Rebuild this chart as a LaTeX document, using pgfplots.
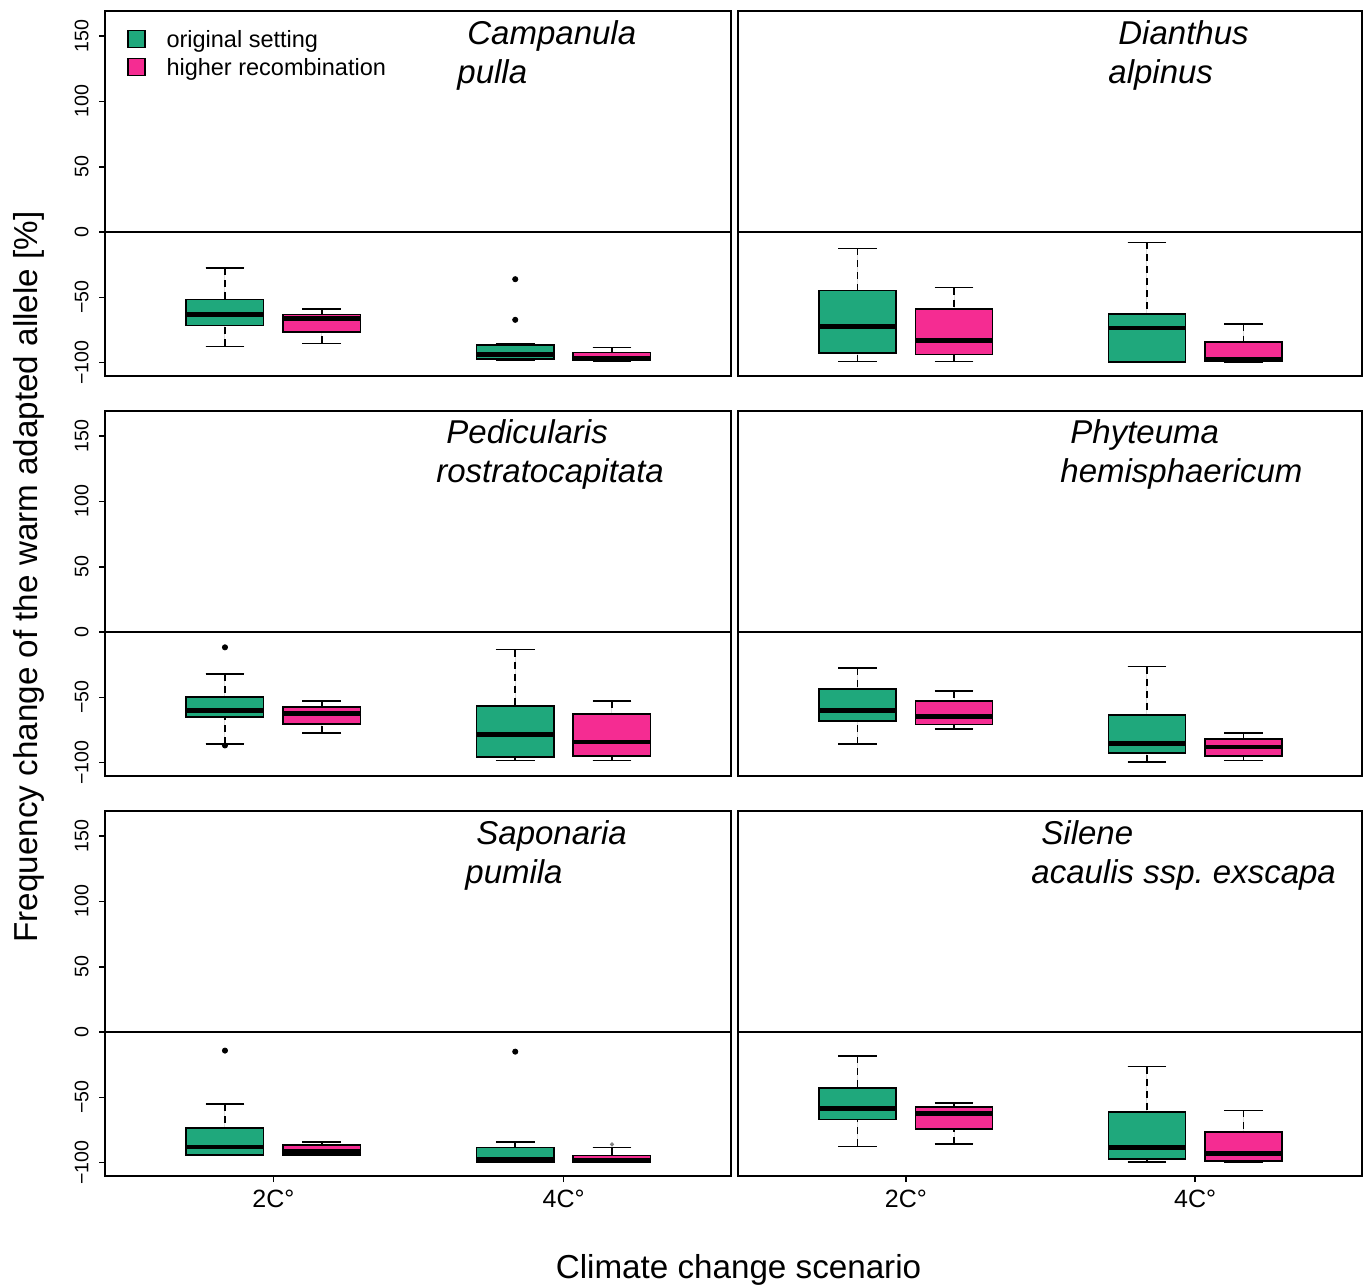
\documentclass[border=0pt]{standalone}
\usepackage{fontspec}
\setmainfont{Liberation Sans}
\usepackage{pgfplots}
\pgfplotsset{compat=1.18}
\usepgfplotslibrary{statistics}
\definecolor{cgreen}{RGB}{31,168,124}
\definecolor{cpink}{RGB}{245,44,146}
\pgfplotsset{
  panel/.style={
    scale only axis, height=182.5pt,
    xmin=-0.24, xmax=6.23, ymin=-110.2, ymax=169.2,
    axis line style={line width=1pt},
    ytick={-100,-50,0,50,100,150},
    yticklabels={−100,−50,0,50,100,150},
    xtick={1.5,4.5}, xticklabels={2C°,4C°},
    tick align=outside, major tick length=3pt,
    tick style={black, line width=0.8pt},
    xtick pos=bottom, ytick pos=left,
    yticklabel shift=4pt,
    yticklabel style={rotate=90, anchor=south, font=\fontsize{9.8}{11}\selectfont, inner sep=1pt},
    xticklabel style={font=\fontsize{12.5}{14}\selectfont, inner sep=1pt, yshift=-3pt},
    boxplot/draw direction=y,
    clip=true,
  },
  boxplot/every box/.style={draw=black, line width=0.8pt},
  boxplot/every median/.style={draw=black, line width=2.4pt},
  boxplot/draw/lower whisker/.code={
    \draw[black, line width=0.8pt, dash pattern=on 3.5pt off 2.5pt]
      (boxplot cs:\pgfplotsboxplotvalue{lower whisker}) -- (boxplot cs:\pgfplotsboxplotvalue{lower quartile});
    \draw[black, line width=0.8pt]
      (boxplot whisker cs:\pgfplotsboxplotvalue{lower whisker},0) -- (boxplot whisker cs:\pgfplotsboxplotvalue{lower whisker},1);
  },
  boxplot/draw/upper whisker/.code={
    \draw[black, line width=0.8pt, dash pattern=on 3.5pt off 2.5pt]
      (boxplot cs:\pgfplotsboxplotvalue{upper whisker}) -- (boxplot cs:\pgfplotsboxplotvalue{upper quartile});
    \draw[black, line width=0.8pt]
      (boxplot whisker cs:\pgfplotsboxplotvalue{upper whisker},0) -- (boxplot whisker cs:\pgfplotsboxplotvalue{upper whisker},1);
  },
}
% #1 colour, #2 position, #3 lower whisker, #4 lower quartile, #5 median, #6 upper quartile, #7 upper whisker
\newcommand{\bx}[7]{%
  \addplot[fill=#1, draw=black, line width=0.8pt, mark=none,
    boxplot prepared={draw position=#2, box extend=0.8, whisker extend=0.4,
      lower whisker=#3, lower quartile=#4, median=#5, upper quartile=#6, upper whisker=#7}]
    coordinates {};
}
\newcommand{\zeroline}{\addplot[black, line width=0.8pt] coordinates {(-0.24,0) (6.23,0)};}
\newcommand{\ttl}{\fontsize{16.5}{20}\selectfont\itshape}
\begin{document}
\frenchspacing
\begin{tikzpicture}
\path (0,0) rectangle (684pt,643pt);
% ---------- row 1 left: Campanula pulla
\begin{axis}[panel, width=313pt, at={(52.5pt,455pt)}, anchor=south west, xmajorticks=false,
  legend image code/.code={\draw[#1] (0pt,-3pt) rectangle (8.5pt,5.5pt); \path (18pt,0pt);},
  legend style={draw=none, fill=none, at={(axis description cs:0.035,0.956)}, anchor=north west,
    inner sep=0pt, row sep=0pt, font=\fontsize{11.75}{14}\selectfont,
    nodes={inner sep=1pt, text height=9pt, text depth=3pt}},
  legend cell align=left]
\addlegendimage{fill=cgreen, draw=black, line width=0.6pt}
\addlegendentry{original setting}
\addlegendimage{fill=cpink, draw=black, line width=0.6pt}
\addlegendentry{higher recombination}
\zeroline
\bx{cgreen}{1}{-87.5}{-71.5}{-63.1}{-51.7}{-27.5}
\bx{cpink}{2}{-85.2}{-76.3}{-66.4}{-63.1}{-58.8}
\bx{cgreen}{4}{-98}{-97}{-93.5}{-86.3}{-85.2}
\bx{cpink}{5}{-98.5}{-98}{-96.5}{-92.1}{-88.5}
\addplot[only marks, mark=*, mark size=1.3pt, black] coordinates {(4,-36.1) (4,-67.2)};
\end{axis}
% ---------- row 1 right: Dianthus alpinus
\begin{axis}[panel, width=312pt, at={(369pt,455pt)}, anchor=south west, xmajorticks=false, ymajorticks=false]
\zeroline
\bx{cgreen}{1}{-99.2}{-92.4}{-72.5}{-44.8}{-12.5}
\bx{cpink}{2}{-99.2}{-93.6}{-83}{-58.8}{-42.5}
\bx{cgreen}{4}{-100}{-99.3}{-73.5}{-62.6}{-7.9}
\bx{cpink}{5}{-100}{-99.2}{-97.5}{-84.2}{-70.2}
\end{axis}
% ---------- row 2 left: Pedicularis
\begin{axis}[panel, width=313pt, at={(52.5pt,255pt)}, anchor=south west, xmajorticks=false]
\zeroline
\bx{cgreen}{1}{-85.5}{-64.9}{-60.3}{-49.6}{-32.1}
\bx{cpink}{2}{-77.4}{-70.5}{-62.3}{-57.5}{-52.9}
\bx{cgreen}{4}{-98.2}{-95.7}{-78.4}{-56.7}{-13.5}
\bx{cpink}{5}{-98.2}{-94.9}{-84.2}{-62.6}{-52.9}
\addplot[only marks, mark=*, mark size=1.3pt, black] coordinates {(1,-11.7) (1,-86.8)};
\end{axis}
% ---------- row 2 right: Phyteuma
\begin{axis}[panel, width=312pt, at={(369pt,255pt)}, anchor=south west, xmajorticks=false, ymajorticks=false]
\zeroline
\bx{cgreen}{1}{-85.5}{-68.2}{-59.8}{-43.8}{-27.5}
\bx{cpink}{2}{-74}{-70.7}{-64.9}{-52.9}{-45}
\bx{cgreen}{4}{-99.5}{-92.6}{-85.2}{-63.6}{-26.5}
\bx{cpink}{5}{-98.2}{-94.9}{-88}{-81.7}{-77.4}
\end{axis}
% ---------- row 3 left: Saponaria
\begin{axis}[panel, width=313pt, at={(52.5pt,55pt)}, anchor=south west]
\zeroline
\bx{cgreen}{1}{-94.4}{-93.9}{-88}{-73.5}{-55.2}
\bx{cpink}{2}{-94.2}{-93.9}{-91.5}{-86.5}{-84.2}
\bx{cgreen}{4}{-99.6}{-99.5}{-97.8}{-88.5}{-84.2}
\bx{cpink}{5}{-99.6}{-99.5}{-98}{-94.4}{-88.5}
\addplot[only marks, mark=*, mark size=1.3pt, black] coordinates {(1,-14.2) (4,-15)};
\addplot[only marks, mark=*, mark size=0.8pt, gray] coordinates {(5,-86)};
\end{axis}
% ---------- row 3 right: Silene
\begin{axis}[panel, width=312pt, at={(369pt,55pt)}, anchor=south west, ymajorticks=false]
\zeroline
\bx{cgreen}{1}{-87.5}{-66.9}{-58.8}{-42.7}{-18.3}
\bx{cpink}{2}{-85.5}{-74}{-62.3}{-57.5}{-54.2}
\bx{cgreen}{4}{-99.5}{-97.2}{-88.5}{-61.1}{-26.5}
\bx{cpink}{5}{-99.5}{-98.5}{-93.1}{-76.3}{-60}
\end{axis}
% ---------- panel titles
\node[anchor=base west, font=\ttl, inner sep=0pt] at (233.5pt,620.5pt) {Campanula};
\node[anchor=base west, font=\ttl, inner sep=0pt] at (228.5pt,601pt) {pulla};
\node[anchor=base west, font=\ttl, inner sep=0pt] at (559pt,620.5pt) {Dianthus};
\node[anchor=base west, font=\ttl, inner sep=0pt] at (554pt,601pt) {alpinus};
\node[anchor=base west, font=\ttl, inner sep=0pt] at (223pt,421pt) {Pedicularis};
\node[anchor=base west, font=\ttl, inner sep=0pt] at (218pt,401.5pt) {rostratocapitata};
\node[anchor=base west, font=\ttl, inner sep=0pt] at (535pt,421pt) {Phyteuma};
\node[anchor=base west, font=\ttl, inner sep=0pt] at (530pt,401.5pt) {hemisphaericum};
\node[anchor=base west, font=\ttl, inner sep=0pt] at (238pt,221pt) {Saponaria};
\node[anchor=base west, font=\ttl, inner sep=0pt] at (232.5pt,201.5pt) {pumila};
\node[anchor=base west, font=\ttl, inner sep=0pt] at (520.5pt,221pt) {Silene};
\node[anchor=base west, font=\ttl, inner sep=0pt] at (515.5pt,201.5pt) {acaulis ssp. exscapa};
% ---------- axis labels
\node[anchor=base, font=\fontsize{16.6}{20}\selectfont, inner sep=0pt] at (369.25pt,4pt) {Climate change scenario};
\node[anchor=base, rotate=90, font=\fontsize{16.6}{20}\selectfont, inner sep=0pt] at (18.5pt,354.5pt) {Frequency change of the warm adapted allele [\%]};
\end{tikzpicture}
\end{document}
